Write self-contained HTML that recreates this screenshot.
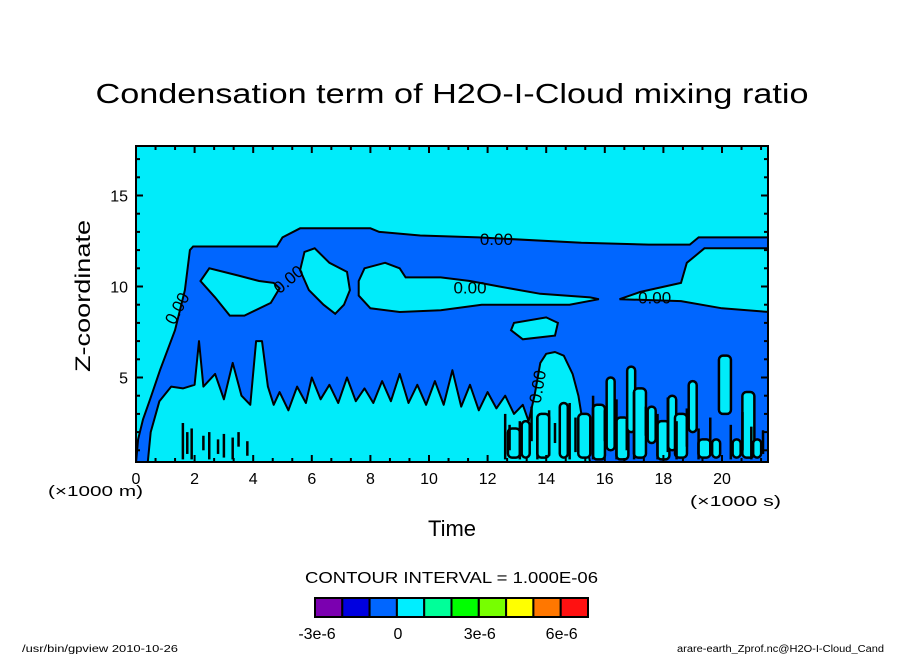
<!DOCTYPE html>
<html><head><meta charset="utf-8"><style>
html,body{margin:0;padding:0;background:#fff;}
svg{display:block;font-family:"Liberation Sans",sans-serif;}
</style></head><body>
<svg id="chart" width="904" height="654" viewBox="0 0 904 654">
<text x="452" y="103" font-size="28" text-anchor="middle" textLength="713" lengthAdjust="spacingAndGlyphs">Condensation term of H2O-I-Cloud mixing ratio</text>
<defs><clipPath id="pc"><rect x="136" y="146" width="632" height="316"/></clipPath></defs>
<g clip-path="url(#pc)" id="plot"></g>
<rect x="136" y="146" width="632" height="316" fill="none" stroke="#000" stroke-width="2"/>
<g id="axes"></g>
<text x="98" y="304" font-size="21" text-anchor="middle" transform="rotate(-90 90 304)" textLength="152" lengthAdjust="spacingAndGlyphs">Z-coordinate</text>
<text x="48" y="496" font-size="15" textLength="95" lengthAdjust="spacingAndGlyphs">(×1000 m)</text>
<text x="690" y="506" font-size="15" textLength="91" lengthAdjust="spacingAndGlyphs">(×1000 s)</text>
<text x="452" y="536" font-size="22" text-anchor="middle">Time</text>
<text x="305" y="583" font-size="16" textLength="293" lengthAdjust="spacingAndGlyphs">CONTOUR INTERVAL = 1.000E-06</text>
<g id="cbar"></g>
<text x="22" y="652" font-size="10" textLength="156" lengthAdjust="spacingAndGlyphs">/usr/bin/gpview  2010-10-26</text>
<text x="677" y="652" font-size="10" textLength="207" lengthAdjust="spacingAndGlyphs">arare-earth_Zprof.nc@H2O-I-Cloud_Cand</text>
</svg>
<script>
const NS="http://www.w3.org/2000/svg";
// data (time in 1000 s, z in 1000 m)
const outerT=[0,0.07,0.24,0.48,0.82,1.33,1.67,1.84,1.95,4.81,5.0,5.6,8.0,8.3,9.7,11.7,15.2,17.5,18.9,19.2,21.6];
const outerZ=[0.3,1.6,2.7,3.8,5.4,7.6,9.8,12.0,12.2,12.2,12.7,13.2,13.2,13.0,12.8,12.7,12.4,12.3,12.3,12.7,12.7];
const lowT=[0.4,0.5,0.8,1.2,1.6,2.0,2.15,2.3,2.7,3.0,3.3,3.6,3.9,4.1,4.3,4.5,4.7,4.9,5.2,5.5,5.8,6.0,6.3,6.6,6.9,7.2,7.5,7.8,8.1,8.4,8.7,9.0,9.3,9.6,9.9,10.2,10.5,10.8,11.1,11.4,11.7,12.0,12.3,12.6,12.9,13.2,13.4,13.6,13.8,14.0,14.3,14.6,14.9,15.1,15.3,15.5];
const lowZ=[0.3,2,3.7,4.5,4.4,4.6,7.0,4.5,5.2,3.8,5.8,4.0,3.5,7.0,7.0,4.5,3.5,4.2,3.2,4.5,3.6,5.0,3.8,4.6,3.6,5.0,3.7,4.4,3.6,4.8,3.7,5.2,3.6,4.6,3.5,4.8,3.5,5.4,3.4,4.6,3.2,4.2,3.3,4.0,3.0,3.5,2.6,4.0,5.8,6.3,6.4,6.2,5.2,4.0,2.0,0.3];
const holeAT=[2.2,2.5,3.5,4.2,4.7,4.9,4.6,3.7,3.2,2.7];
const holeAZ=[10.3,11.0,10.6,10.3,10.2,9.9,9.1,8.4,8.4,9.4];
const holeBT=[5.75,6.1,6.6,7.2,7.3,7.1,6.8,6.4,5.9,5.6];
const holeBZ=[11.9,12.1,11.3,10.8,9.8,9.0,8.5,9.0,9.8,10.9];
const holeCT=[7.6,7.8,8.5,9.0,9.2,10.4,11.4,12.4,13.8,15.5,15.8,14.8,11.8,10.4,9.0,8.0,7.6];
const holeCZ=[10.3,11.0,11.3,11.0,10.5,10.5,10.3,10.0,9.6,9.4,9.3,9.0,9.0,8.7,8.6,8.8,9.5];
const holeDT=[16.5,17.2,18.6,18.8,19.1,19.4,21.6,21.6,20.0,18.6];
const holeDZ=[9.3,9.7,10.2,11.3,11.7,12.1,12.1,8.6,8.8,9.2];
const islT=[12.8,12.9,14.0,14.4,14.3,13.2];
const islZ=[7.6,8.0,8.3,8.0,7.3,7.1];
// cyan streaks in lower right: t, zBottom, zTop
const strT=[15.8,16.2,16.6,16.9,17.2,17.6,18.0,18.3,18.6,19.0,19.4,19.8,20.1,20.5,20.9,21.2,15.3,14.6,13.9,13.3,12.9];
const strB=[0.5,1.0,0.5,2.0,0.6,1.4,0.5,1.0,0.6,2.0,0.6,0.6,3.0,0.6,0.6,0.6,0.6,0.6,0.6,0.6,0.6];
const strE=[3.5,5.0,2.8,5.6,4.4,3.4,2.6,4.0,3.0,4.8,1.6,1.6,6.2,1.6,4.2,1.6,3.0,3.6,3.0,2.6,2.2];
// thin black contour fragments: t, zBottom, zTop
const lineT=[1.6,1.75,1.9,2.3,2.5,2.8,3.0,3.3,3.5,3.8,12.6,12.75,13.1,13.5,13.7,14.1,14.3,14.8,15.0,15.6,16.0,16.4,16.75,17.0,17.4,17.8,18.15,18.45,18.8,19.2,19.6,20.3,20.7,21.0,21.4];
const lineB=[0.5,0.8,0.5,1.0,0.5,0.8,0.6,0.5,1.2,0.7,0.5,1.0,0.5,1.5,0.5,0.7,1.4,0.5,0.9,0.5,1.5,0.5,1.0,0.5,1.8,0.5,0.9,0.5,1.2,0.5,0.8,0.5,1.0,0.5,0.8];
const lineE=[2.5,2.0,2.2,1.8,2.0,1.6,1.9,1.7,2.0,1.5,3.0,2.4,2.6,3.4,2.8,3.2,2.5,3.6,2.8,4.0,3.2,3.8,2.7,4.2,3.4,3.0,3.9,2.6,3.3,2.2,2.8,2.4,3.1,2.3,2.1];
const labT=[12.3,11.4,17.7,1.4,5.2,13.7];
const labZ=[12.6,9.95,9.4,8.8,10.4,4.5];
const labR=[0,0,0,-62,-40,-80];
const xTicks=[0,2,4,6,8,10,12,14,16,18,20];
const yTicks=[5,10,15];
const cbColors=["#7b00b0","#0000e0","#0066ff","#00eeff","#00ff99","#00ff00","#77ff00","#ffff00","#ff7700","#ff1111"];
const cbLabels=["-3e-6","0","3e-6","6e-6"];
const cbLabelIdx=[0,3,6,9];

const X=t=>136+t*29.3, Y=z=>468.5-z*18.2;
const plot=document.getElementById('plot'), axes=document.getElementById('axes'), cbar=document.getElementById('cbar');
function mk(tag,a,p){const e=document.createElementNS(NS,tag);for(const k in a)e.setAttribute(k,a[k]);p.appendChild(e);return e;}
function pts(T,Z){return T.map((t,i)=>X(t).toFixed(1)+","+Y(Z[i]).toFixed(1)).join(" ");}
const CY="#00ecfa", BL="#0066ff";
let r=mk('rect',{x:136,y:146,width:632,height:316,fill:CY},plot);


let o=mk('polygon',{points:pts(outerT,outerZ)+" "+X(21.6)+","+Y(0)+" "+X(0)+","+Y(0),fill:BL,stroke:"#000","stroke-width":2},plot);


let lo=mk('polygon',{points:pts(lowT,lowZ),fill:CY,stroke:"#000","stroke-width":2,"stroke-linejoin":"round"},plot);


[[holeAT,holeAZ,'hole-a'],[holeBT,holeBZ,'hole-b'],[holeCT,holeCZ,'hole-c'],[holeDT,holeDZ,'hole-d'],[islT,islZ,'cyan-island']].forEach(h=>{
  const p=mk('polygon',{points:pts(h[0],h[1]),fill:CY,stroke:"#000","stroke-width":2},plot);
  
  
});
strT.forEach((t,i)=>{
  const w=i%2?8:12;
  const s=mk('rect',{x:X(t)-w/2,y:Y(strE[i]),width:w,height:Y(strB[i])-Y(strE[i]),rx:4,fill:CY,stroke:"#000","stroke-width":2.5},plot);
  
  
});
lineT.forEach((t,i)=>{
  const l=mk('line',{x1:X(t),y1:Y(lineB[i]),x2:X(t),y2:Y(lineE[i]),stroke:"#000","stroke-width":2.5},plot);
  
  
});
labT.forEach((t,i)=>{
  const tx=mk('text',{x:X(t),y:Y(labZ[i])+6,"font-size":17,"text-anchor":"middle",transform:`rotate(${labR[i]} ${X(t)} ${Y(labZ[i])})`},plot);
  tx.textContent="0.00";
  
  
});
// ticks
for(let k=0;k<=32;k++){const t=k*2/3,x=X(t),L=(k%3==0)?7:4;
  mk('line',{x1:x,y1:462,x2:x,y2:462-L,stroke:"#000","stroke-width":2},axes);
  mk('line',{x1:x,y1:146,x2:x,y2:146+L,stroke:"#000","stroke-width":2},axes);}
for(let z=1;z<=17;z++){const y=Y(z),L=(z%5==0)?7:4;
  mk('line',{x1:136,y1:y,x2:136+L,y2:y,stroke:"#000","stroke-width":2},axes);
  mk('line',{x1:768,y1:y,x2:768-L,y2:y,stroke:"#000","stroke-width":2},axes);}
xTicks.forEach(t=>{const tx=mk('text',{x:X(t),y:484,"font-size":16,"text-anchor":"middle"},axes);
  tx.textContent=t;
  
  });
yTicks.forEach(z=>{const tx=mk('text',{x:128,y:Y(z)+6,"font-size":16,"text-anchor":"end"},axes);
  tx.textContent=z;
  
  });
// colorbar
const cw=27.3;
cbColors.forEach((c,i)=>{const b=mk('rect',{x:315+i*cw,y:598,width:cw,height:19,fill:c,stroke:"#000","stroke-width":2},cbar);
  
  });
cbLabels.forEach((l,i)=>{const tx=mk('text',{x:315+cbLabelIdx[i]*cw+(i==0?2:1),y:639,"font-size":16,"text-anchor":"middle"},cbar);
  tx.textContent=l;
  
  });
</script>
</body></html>
